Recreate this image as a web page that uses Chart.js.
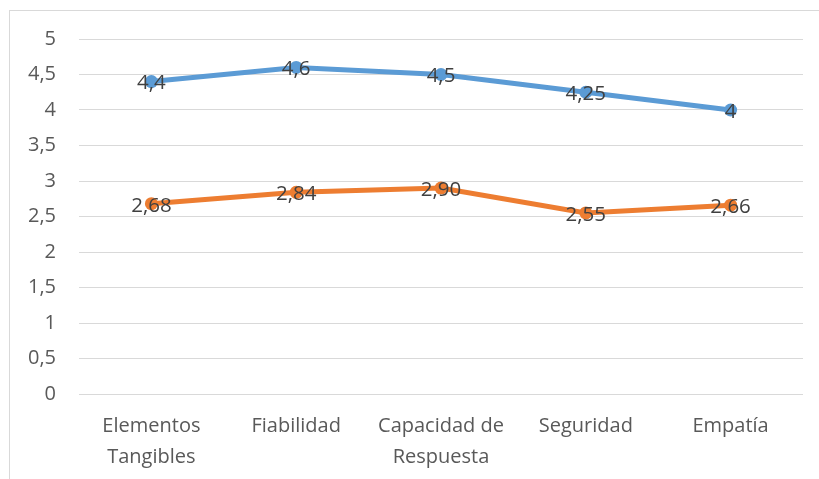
<!DOCTYPE html>
<html><head><meta charset="utf-8">
<script src="https://cdn.jsdelivr.net/npm/chart.js@4"></script>
<style>html,body{margin:0;padding:0;background:#fff;overflow:hidden}#wrap{width:819px;height:479px;position:relative}</style>
</head><body><div id="wrap"><canvas id="c" width="819" height="479"></canvas></div>
<script>
const categories = [["Elementos","Tangibles"],"Fiabilidad",["Capacidad de","Respuesta"],"Seguridad","Empatía"];
const seriesBlue = [4.4, 4.6, 4.5, 4.25, 4];
const seriesOrange = [2.68, 2.84, 2.90, 2.55, 2.66];
const labelsBlue = ["4,4","4,6","4,5","4,25","4"];
const labelsOrange = ["2,68","2,84","2,90","2,55","2,66"];
const yTicks = ["0","0,5","1","1,5","2","2,5","3","3,5","4","4,5","5"];

const FONT = "'Open Sans', 'Noto Sans', sans-serif";

const borderPlugin = {
  id: 'frame',
  beforeDraw(chart){
    const ctx = chart.ctx;
    ctx.save();
    ctx.strokeStyle = '#D9D9D9';
    ctx.lineWidth = 1;
    ctx.strokeRect(9.5, 10.5, 840, 500);
    ctx.restore();
  }
};
const labelPlugin = {
  id: 'dlabels',
  afterDatasetsDraw(chart){
    const ctx = chart.ctx;
    ctx.save();
    ctx.font = "20.5px " + FONT;
    ctx.fillStyle = '#404040';
    ctx.textAlign = 'center';
    ctx.textBaseline = 'middle';
    chart.data.datasets.forEach((ds, i) => {
      const meta = chart.getDatasetMeta(i);
      meta.data.forEach((pt, j) => {
        ctx.fillText(ds.valueLabels[j], pt.x, pt.y + 2);
      });
    });
    ctx.restore();
  }
};

new Chart(document.getElementById('c'), {
  type: 'line',
  data: {
    labels: categories,
    datasets: [
      {data: seriesBlue, valueLabels: labelsBlue, borderColor:'#5B9BD5', backgroundColor:'#5B9BD5', borderWidth:5, pointRadius:6.5, pointBorderWidth:0, pointBackgroundColor:'#5B9BD5', tension:0},
      {data: seriesOrange, valueLabels: labelsOrange, borderColor:'#ED7D31', backgroundColor:'#ED7D31', borderWidth:5, pointRadius:6.5, pointBorderWidth:0, pointBackgroundColor:'#ED7D31', tension:0}
    ]
  },
  options: {
    responsive:false, animation:false, devicePixelRatio:1,
    layout:{padding:{top:39, right:16, left:0, bottom:0}},
    plugins:{legend:{display:false}, tooltip:{enabled:false}},
    scales:{
      x:{
        offset:true,
        grid:{display:false, drawTicks:false},
        border:{display:false},
        ticks:{color:'#595959', font:{family:FONT, size:20, lineHeight:1.55}, padding:17, maxRotation:0, autoSkip:false},
        afterFit(s){ s.height = 85; }
      },
      y:{
        min:0, max:5,
        grid:{color:'#D9D9D9', lineWidth:1, drawTicks:false},
        border:{display:false},
        ticks:{stepSize:0.5, color:'#595959', font:{family:FONT, size:20}, padding:23,
          callback:(v)=> yTicks[Math.round(v*2)]},
        afterFit(s){ s.width = 79; }
      }
    }
  },
  plugins:[borderPlugin, labelPlugin]
});
</script></body></html>
